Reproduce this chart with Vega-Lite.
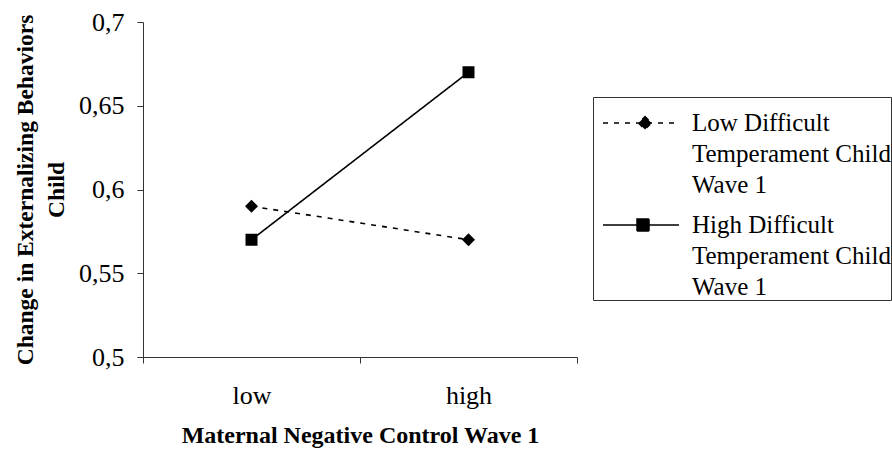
{
  "$schema": "https://vega.github.io/schema/vega-lite/v6.json",
  "width": 434,
  "height": 335,
  "autosize": {"type": "none"},
  "padding": {"left": 143, "top": 22, "right": 315, "bottom": 95},
  "background": "white",
  "config": {
    "font": "Liberation Serif",
    "view": {"stroke": null},
    "style": {"guide-label": {"lineHeight": 31}}
  },
  "data": {
    "values": [
      {"control": "low", "temperament": "Low", "change": 0.59},
      {"control": "high", "temperament": "Low", "change": 0.57},
      {"control": "low", "temperament": "High", "change": 0.57},
      {"control": "high", "temperament": "High", "change": 0.67}
    ]
  },
  "encoding": {
    "x": {
      "field": "control",
      "type": "nominal",
      "sort": ["low", "high"],
      "scale": {"paddingInner": 0, "paddingOuter": 0},
      "axis": {
        "title": "Maternal Negative Control Wave 1",
        "labelAngle": 0,
        "labelFontSize": 26,
        "labelColor": "black",
        "labelPadding": 19,
        "tickBand": "extent",
        "tickSize": 6,
        "domainColor": "#333",
        "tickColor": "#333",
        "titleFontSize": 24,
        "titleFontWeight": "bold",
        "titleColor": "black",
        "titlePadding": 15,
        "grid": false
      }
    },
    "y": {
      "field": "change",
      "type": "quantitative",
      "scale": {"domain": [0.5, 0.7], "zero": false, "nice": false},
      "axis": {
        "values": [0.5, 0.55, 0.6, 0.65, 0.7],
        "labelExpr": "replace(format(datum.value, '.2~f'), '.', ',')",
        "labelFontSize": 26,
        "labelColor": "black",
        "labelPadding": 13,
        "tickSize": 6,
        "domainColor": "#333",
        "tickColor": "#333",
        "grid": false,
        "title": ["Change in Externalizing Behaviors", "Child"],
        "titleFontSize": 23.5,
        "titleFontWeight": "bold",
        "titleColor": "black",
        "titleLineHeight": 31,
        "titlePadding": 10
      }
    }
  },
  "layer": [
    {
      "mark": {"type": "line", "color": "black", "strokeWidth": 1.6},
      "encoding": {
        "strokeDash": {
          "field": "temperament",
          "type": "nominal",
          "scale": {"domain": ["Low", "High"], "range": [[5, 6], [1, 0]]},
          "legend": {
            "title": null,
            "orient": "none",
            "legendX": 450,
            "legendY": 75,
            "strokeColor": "#333",
            "padding": 0,
            "labelFontSize": 25,
            "labelColor": "black",
            "labelLimit": 500,
            "labelOffset": 47,
            "rowPadding": 1,
            "symbolSize": 2500,
            "symbolStrokeWidth": 1.5,
            "symbolFillColor": "black",
            "symbolStrokeColor": "black",
            "symbolType": {"expr": "datum.value === 'Low' ? 'M-0.64,0H2.4M1.04,-0.26L1.3,0L1.04,0.26L0.78,0Z' : 'M-0.64,0H2.4M0.72,-0.24H1.2V0.24H0.72Z'"},
            "labelExpr": "[datum.label + ' Difficult', 'Temperament Child', 'Wave 1']"
          }
        }
      }
    },
    {
      "transform": [{"filter": "datum.temperament === 'Low'"}],
      "mark": {"type": "point", "filled": true, "color": "black", "opacity": 1, "size": 169, "shape": "diamond"}
    },
    {
      "transform": [{"filter": "datum.temperament === 'High'"}],
      "mark": {"type": "point", "filled": true, "color": "black", "opacity": 1, "size": 144, "shape": "square"}
    }
  ]
}
